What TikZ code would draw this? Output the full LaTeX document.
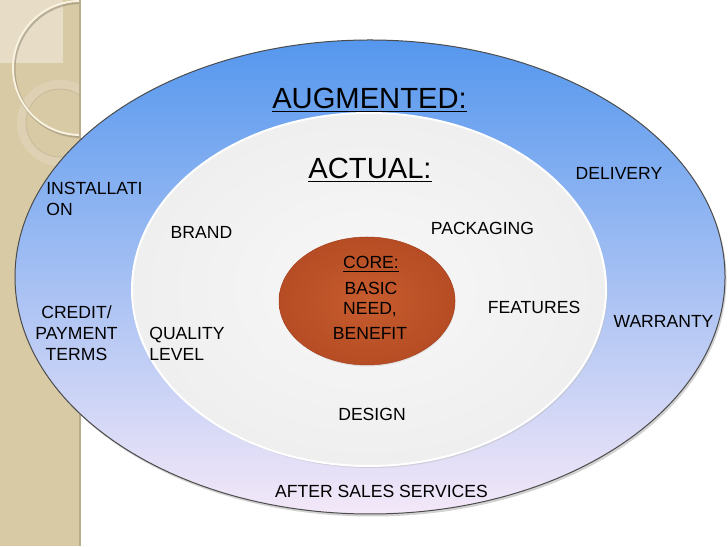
\documentclass[tikz,border=0pt]{standalone}
\usepackage{fontspec}
\setmainfont{Liberation Sans}
\usepackage{tikz}
\usetikzlibrary{calc}
\definecolor{sidetan}{HTML}{D9CAA6}
\definecolor{sidelight}{HTML}{E7DDC7}
\definecolor{sidecream}{HTML}{F8F2DE}
\definecolor{augtop}{HTML}{5597EE}
\definecolor{augmid}{HTML}{8FC2F6}
\definecolor{augbottom}{HTML}{F4E8F8}
\definecolor{corelight}{HTML}{C65C2E}
\definecolor{coredark}{HTML}{A63D19}
\pgfdeclareradialshading{actualglow}{\pgfpoint{0bp}{0bp}}{color(0bp)=(white!97!black); color(30bp)=(white!93!black); color(50bp)=(white!84!black)}
\pgfdeclareradialshading{coreglow}{\pgfpoint{0bp}{0bp}}{color(0bp)=(corelight); color(50bp)=(coredark)}
\tikzset{
	ringtitle/.style={inner sep=0pt, font=\fontsize{16.6}{20}\selectfont},
	ringitem/.style={inner sep=0pt, font=\fontsize{10}{11.9}\selectfont},
}

\begin{document}
\begin{tikzpicture}
		%%%%% START %%%%%
		\useasboundingbox (0, 0) rectangle (14.56, 10.92);
		\fill[white] (0, 0) rectangle (14.56, 10.92);
		
		% side band
		\fill[sidetan] (0, 0) rectangle (1.6, 10.92);
		\begin{scope}
			\clip (0, 0) rectangle (1.6, 10.92);
			\fill[sidelight] (0, 9.66) rectangle (1.26, 10.92);
			\draw[line width=1.8mm, color=white, opacity=0.15] (1.2, 8.46) circle (0.77);
			\draw[line width=0.2mm, color=sidetan!75!black, opacity=0.3] (1.2, 8.46) circle (0.68);
			\draw[line width=0.6mm, color=sidetan!65!black, opacity=0.5] (1.62, 9.53) circle (1.34);
			\draw[line width=0.4mm, color=sidecream] (1.6, 9.56) circle (1.34);
		\end{scope}
		\draw[line width=0.4mm, color=sidetan!85!black] (1.6, 0) -- (1.6, 10.92);
		
		% augmented ring
		\fill[black!35, opacity=0.5] (7.43, 5.33) ellipse (7.10 and 4.74);
		\draw[top color=augtop, middle color=augmid, bottom color=augbottom, draw=black!70, line width=0.2mm] (7.40, 5.38) ellipse (7.10 and 4.74);
		
		% actual ring
		\fill[black!25, opacity=0.5] (7.41, 5.09) ellipse (4.74 and 3.53);
		\path[shade, shading=actualglow, draw=white, line width=0.4mm] (7.38, 5.13) ellipse (4.74 and 3.53);
		
		% core
		\fill[black!25, opacity=0.35] (7.35, 4.87) ellipse (1.76 and 1.28);
		\path[shade, shading=coreglow, draw=coredark, line width=0.1mm] (7.34, 4.90) ellipse (1.76 and 1.28);
		
		\node[ringtitle, anchor=base] (augmented) at (7.39, 8.74) {\underline{AUGMENTED:}};
		\node[ringtitle, anchor=base] (actual) at (7.40, 7.34) {\underline{ACTUAL:}};
		\node[ringitem, anchor=base] (corehead) at (7.42, 5.54) {\underline{CORE:}};
		\node[ringitem, anchor=base] (basic) at (7.42, 5.02) {BASIC};
		\node[ringitem, anchor=base] (need) at (7.40, 4.62) {NEED,};
		\node[ringitem, anchor=base] (benefit) at (7.40, 4.12) {BENEFIT};
		
		\node[ringitem, anchor=base] (brand) at (4.03, 6.14) {BRAND};
		\node[ringitem, anchor=base] (packaging) at (9.65, 6.22) {PACKAGING};
		\node[ringitem, anchor=base] (features) at (10.68, 4.64) {FEATURES};
		\node[ringitem, anchor=west, align=left] (quality) at (2.98, 4.04) {QUALITY\\LEVEL};
		\node[ringitem, anchor=base] (design) at (7.44, 2.50) {DESIGN};
		
		\node[ringitem, anchor=west, align=left] (installation) at (0.92, 6.94) {INSTALLATI\\ON};
		\node[ringitem, anchor=base] (delivery) at (12.38, 7.32) {DELIVERY};
		\node[ringitem, align=center] (credit) at (1.53, 4.25) {CREDIT/\\PAYMENT\\TERMS};
		\node[ringitem, anchor=base] (warranty) at (13.27, 4.36) {WARRANTY};
		\node[ringitem, anchor=base] (aftersales) at (7.63, 0.96) {AFTER SALES SERVICES};
		
		%%%%% END %%%%%
\end{tikzpicture}
\end{document}
